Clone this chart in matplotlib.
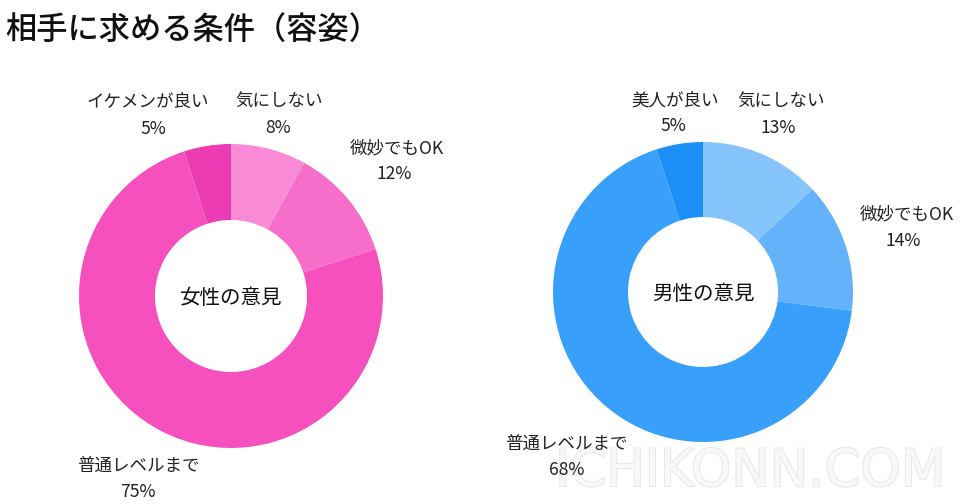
import matplotlib
matplotlib.use("Agg")
import matplotlib.pyplot as plt
import matplotlib.patheffects as pe

plt.rcParams['font.family'] = ['Noto Sans CJK JP', 'DejaVu Sans']

title = "相手に求める条件（容姿）"

female_title = "女性の意見"
female_labels = ["気にしない", "微妙でもOK", "普通レベルまで", "イケメンが良い"]
female_values = [8, 12, 75, 5]
female_colors = ["#F98AD6", "#F76DCA", "#F650BF", "#EC3CB3"]

male_title = "男性の意見"
male_labels = ["気にしない", "微妙でもOK", "普通レベルまで", "美人が良い"]
male_values = [13, 14, 68, 5]
male_colors = ["#86C5FB", "#63B2FA", "#389FFA", "#1B8FF5"]

W, H = 960, 504
fig = plt.figure(figsize=(9.6, 5.04), dpi=100)
ax = fig.add_axes([0, 0, 1, 1])
ax.set_xlim(0, W)
ax.set_ylim(0, H)
ax.set_aspect('equal')
ax.axis('off')

def Y(y):
    return H - y

def donut(values, colors, cx, cy, r, w):
    ax.pie(values, colors=colors, startangle=90, counterclock=False,
           center=(cx, Y(cy)), radius=r, frame=True,
           wedgeprops=dict(width=w, linewidth=0))

donut(female_values, female_colors, 231, 296, 152, 76)
donut(male_values, male_colors, 703, 292, 150, 75)
ax.set_xlim(0, W)
ax.set_ylim(0, H)
ax.axis('off')

fs = 12.6
# label positions (name center, percent center) in pixels
female_pos = [((279, 102), (278, 128)), ((397, 148), (394, 174)),
              ((138, 466), (138, 492)), ((148, 102), (153, 129))]
male_pos = [((781, 102), (778, 128)), ((907, 214), (903, 241)),
            ((566, 444), (567, 470)), ((675, 101), (673, 126))]

for labels, values, pos in [(female_labels, female_values, female_pos),
                            (male_labels, male_values, male_pos)]:
    for lab, v, (p1, p2) in zip(labels, values, pos):
        ax.text(p1[0], Y(p1[1]), lab, ha='center', va='center', fontsize=fs,
                color='#222222', zorder=5)
        ax.text(p2[0], Y(p2[1]), f"{v}%", ha='center', va='center', fontsize=fs,
                color='#222222', zorder=5)

ax.text(231, Y(298), female_title, ha='center', va='center', fontsize=14.8, color='#111111')
ax.text(703, Y(294), male_title, ha='center', va='center', fontsize=14.8, color='#111111')

fig.text(5 / W, 1 - 30 / H, title, ha='left', va='center', fontsize=22.5,
         fontweight='medium', color='#111111')

ax.text(750, Y(472), "ICHIKONN.COM", ha='center', va='center', fontsize=37,
        color='#f8f8f8', family=['DejaVu Sans'],
        path_effects=[pe.withStroke(linewidth=1.5, foreground='#e8e8e8')], zorder=0)

fig.savefig("out.png", dpi=100, facecolor='white')
